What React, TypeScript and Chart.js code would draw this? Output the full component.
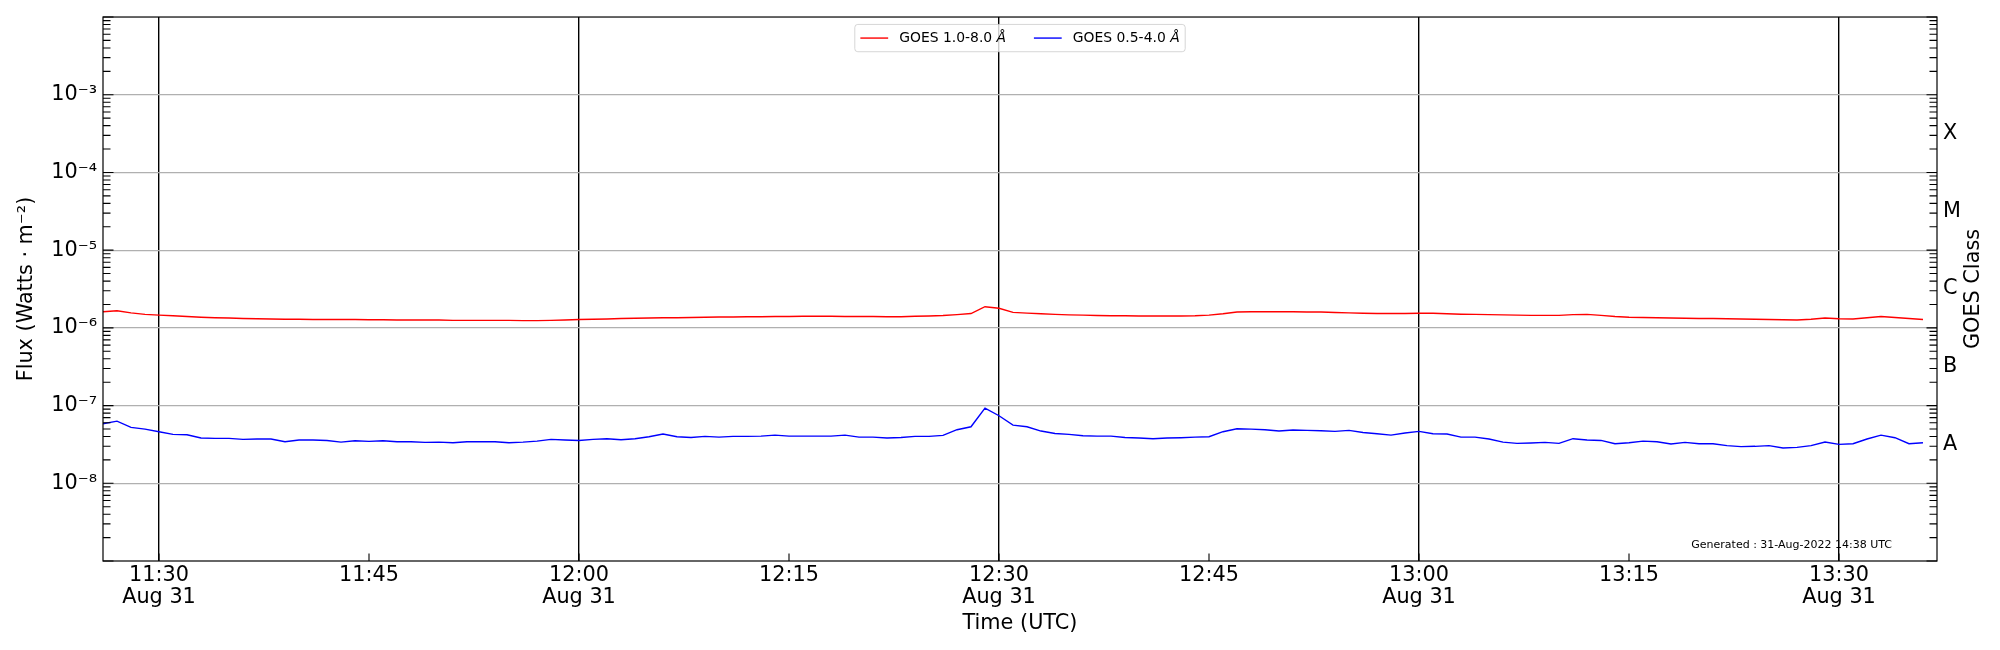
import { useEffect, useRef } from 'react';
import { Chart, registerables, type Plugin } from 'chart.js';

Chart.register(...registerables);

// one GOES reading per minute, first one at 11:26 UTC
const startMinute = 11 * 60 + 26;
const axisMin = 11 * 60 + 26;
const axisMax = 13 * 60 + 37;

const longFlux = [
  1.61e-6, 1.66e-6, 1.56e-6, 1.49e-6, 1.46e-6, 1.43e-6, 1.4e-6, 1.37e-6, 1.35e-6, 1.34e-6,
  1.32e-6, 1.31e-6, 1.3e-6, 1.29e-6, 1.29e-6, 1.28e-6, 1.28e-6, 1.28e-6, 1.28e-6, 1.27e-6,
  1.27e-6, 1.26e-6, 1.26e-6, 1.26e-6, 1.26e-6, 1.25e-6, 1.25e-6, 1.25e-6, 1.25e-6, 1.25e-6,
  1.24e-6, 1.24e-6, 1.25e-6, 1.26e-6, 1.28e-6, 1.29e-6, 1.3e-6, 1.32e-6, 1.33e-6, 1.34e-6,
  1.35e-6, 1.35e-6, 1.36e-6, 1.37e-6, 1.38e-6, 1.38e-6, 1.39e-6, 1.39e-6, 1.4e-6, 1.4e-6,
  1.41e-6, 1.41e-6, 1.41e-6, 1.4e-6, 1.4e-6, 1.4e-6, 1.39e-6, 1.39e-6, 1.41e-6, 1.42e-6,
  1.44e-6, 1.48e-6, 1.53e-6, 1.87e-6, 1.79e-6, 1.58e-6, 1.55e-6, 1.52e-6, 1.49e-6, 1.47e-6,
  1.46e-6, 1.44e-6, 1.43e-6, 1.43e-6, 1.42e-6, 1.42e-6, 1.42e-6, 1.42e-6, 1.43e-6, 1.46e-6,
  1.52e-6, 1.6e-6, 1.61e-6, 1.61e-6, 1.61e-6, 1.61e-6, 1.6e-6, 1.6e-6, 1.58e-6, 1.56e-6,
  1.54e-6, 1.53e-6, 1.53e-6, 1.53e-6, 1.54e-6, 1.54e-6, 1.52e-6, 1.5e-6, 1.49e-6, 1.48e-6,
  1.47e-6, 1.46e-6, 1.45e-6, 1.45e-6, 1.45e-6, 1.48e-6, 1.49e-6, 1.45e-6, 1.4e-6, 1.37e-6,
  1.36e-6, 1.35e-6, 1.34e-6, 1.33e-6, 1.32e-6, 1.32e-6, 1.31e-6, 1.3e-6, 1.29e-6, 1.28e-6,
  1.27e-6, 1.26e-6, 1.29e-6, 1.34e-6, 1.31e-6, 1.3e-6, 1.35e-6, 1.4e-6, 1.36e-6, 1.32e-6,
  1.28e-6,
];

const shortFlux = [
  5.84e-8, 6.31e-8, 5.24e-8, 4.98e-8, 4.61e-8, 4.26e-8, 4.21e-8, 3.82e-8, 3.78e-8, 3.78e-8,
  3.67e-8, 3.71e-8, 3.71e-8, 3.43e-8, 3.6e-8, 3.6e-8, 3.56e-8, 3.39e-8, 3.53e-8, 3.46e-8,
  3.53e-8, 3.43e-8, 3.43e-8, 3.36e-8, 3.39e-8, 3.33e-8, 3.43e-8, 3.43e-8, 3.43e-8, 3.33e-8,
  3.39e-8, 3.49e-8, 3.67e-8, 3.6e-8, 3.56e-8, 3.67e-8, 3.75e-8, 3.64e-8, 3.75e-8, 3.97e-8,
  4.3e-8, 3.97e-8, 3.89e-8, 4.01e-8, 3.93e-8, 4.01e-8, 4.01e-8, 4.05e-8, 4.17e-8, 4.05e-8,
  4.05e-8, 4.05e-8, 4.05e-8, 4.17e-8, 3.93e-8, 3.93e-8, 3.82e-8, 3.89e-8, 4.01e-8, 4.01e-8,
  4.13e-8, 4.89e-8, 5.34e-8, 9.27e-8, 7.4e-8, 5.61e-8, 5.34e-8, 4.7e-8, 4.38e-8, 4.26e-8,
  4.09e-8, 4.05e-8, 4.05e-8, 3.89e-8, 3.82e-8, 3.75e-8, 3.82e-8, 3.86e-8, 3.93e-8, 3.97e-8,
  4.61e-8, 5.03e-8, 4.98e-8, 4.89e-8, 4.7e-8, 4.84e-8, 4.79e-8, 4.74e-8, 4.65e-8, 4.79e-8,
  4.51e-8, 4.34e-8, 4.17e-8, 4.43e-8, 4.65e-8, 4.34e-8, 4.3e-8, 3.93e-8, 3.93e-8, 3.71e-8,
  3.39e-8, 3.26e-8, 3.3e-8, 3.36e-8, 3.26e-8, 3.75e-8, 3.6e-8, 3.56e-8, 3.23e-8, 3.33e-8,
  3.49e-8, 3.43e-8, 3.2e-8, 3.36e-8, 3.23e-8, 3.23e-8, 3.05e-8, 2.96e-8, 2.99e-8, 3.05e-8,
  2.84e-8, 2.9e-8, 3.05e-8, 3.39e-8, 3.17e-8, 3.23e-8, 3.71e-8, 4.17e-8, 3.86e-8, 3.23e-8,
  3.33e-8,
];

const seriesLabels = ['GOES 1.0-8.0 Å', 'GOES 0.5-4.0 Å'];
const seriesColors = ['#ff0000', '#0000ff'];

// tick positions in minutes of the day
const timeTicks = [690, 705, 720, 735, 750, 765, 780, 795, 810];
const dateLabel = 'Aug 31';
const fluxTicks = [1e-8, 1e-7, 1e-6, 1e-5, 1e-4, 1e-3];
const classNames = ['A', 'B', 'C', 'M', 'X'];
const classLevels = [10 ** -7.5, 10 ** -6.5, 10 ** -5.5, 10 ** -4.5, 10 ** -3.5];
const generatedText = 'Generated : 31-Aug-2022 14:38 UTC';

const FONT = 'DejaVu Sans';
const BIG = 20.8;
const tickFont = { family: FONT, size: BIG, lineHeight: 1.06 };
const titleFont = { family: FONT, size: BIG, lineHeight: 1.2 };

const sup: Record<string, string> = {
  '-': '⁻', '0': '⁰', '1': '¹', '2': '²', '3': '³', '4': '⁴',
  '5': '⁵', '6': '⁶', '7': '⁷', '8': '⁸', '9': '⁹',
};
const pow10 = (v: number) =>
  '10' + String(Math.round(Math.log10(v))).split('').map((c) => sup[c]).join('');

const hhmm = (m: number) => `${Math.floor(m / 60)}:${String(m % 60).padStart(2, '0')}`;

const decorations: Plugin<'line'> = {
  id: 'goesDecorations',
  afterDraw(chart) {
    const { ctx, chartArea: a, scales } = chart;
    const y = scales.y;
    const x = scales.x;
    const y2 = scales.y2;
    ctx.save();

    // inward log ticks on both sides, inward time ticks on the bottom
    ctx.strokeStyle = '#000';
    ctx.lineWidth = 1.1;
    ctx.beginPath();
    for (let e = -9; e <= -2; e++) {
      for (let m = 1; m <= 9; m++) {
        const v = m * 10 ** e;
        if (v > 1.0001e-2) break;
        const py = y.getPixelForValue(v);
        const len = m === 1 ? 10.5 : 7.5;
        ctx.moveTo(a.left, py);
        ctx.lineTo(a.left + len, py);
        ctx.moveTo(a.right, py);
        ctx.lineTo(a.right - len, py);
      }
    }
    for (const t of timeTicks) {
      const px = x.getPixelForValue(t);
      ctx.moveTo(px, a.bottom);
      ctx.lineTo(px, a.bottom - 7.5);
    }
    ctx.stroke();

    ctx.lineWidth = 1.2;
    ctx.strokeRect(a.left, a.top, a.right - a.left, a.bottom - a.top);

    // legend, matplotlib style, inside the axes at the top
    const fs = 13.9;
    const normal = `${fs}px '${FONT}'`;
    const italic = `italic ${fs}px '${FONT}'`;
    const items = chart.data.datasets.map((ds) => {
      const label = String(ds.label);
      const cut = label.lastIndexOf(' ') + 1;
      const main = label.slice(0, cut);
      const unit = label.slice(cut);
      ctx.font = normal;
      const w1 = ctx.measureText(main).width;
      ctx.font = italic;
      const w2 = ctx.measureText(unit).width;
      return { main, unit, w1, w: w1 + w2, color: String(ds.borderColor) };
    });
    const pad = 0.4 * fs;
    const handle = 2 * fs;
    const textPad = 0.8 * fs;
    const colGap = 2 * fs;
    const boxW =
      2 * pad + items.reduce((s, it) => s + handle + textPad + it.w, 0) + colGap * (items.length - 1);
    const boxH = 27.3;
    const boxX = (a.left + a.right) / 2 - boxW / 2;
    const boxY = a.top + 7.4;
    ctx.beginPath();
    ctx.roundRect(boxX, boxY, boxW, boxH, 3);
    ctx.fillStyle = 'rgba(255,255,255,0.8)';
    ctx.fill();
    ctx.strokeStyle = 'rgba(204,204,204,0.8)';
    ctx.lineWidth = 1;
    ctx.stroke();
    const cy = boxY + boxH / 2;
    let cx = boxX + pad;
    ctx.textBaseline = 'middle';
    ctx.textAlign = 'left';
    for (const it of items) {
      ctx.strokeStyle = it.color;
      ctx.lineWidth = 1.4;
      ctx.beginPath();
      ctx.moveTo(cx, cy);
      ctx.lineTo(cx + handle, cy);
      ctx.stroke();
      cx += handle + textPad;
      ctx.fillStyle = '#000';
      ctx.font = normal;
      ctx.fillText(it.main, cx, cy);
      ctx.font = italic;
      ctx.fillText(it.unit, cx + it.w1, cy);
      cx += it.w + colGap;
    }

    // footer note
    ctx.font = `11px '${FONT}'`;
    ctx.textAlign = 'right';
    ctx.fillStyle = '#000';
    ctx.fillText(generatedText, a.right - 45, a.bottom - 16);

    // right axis title, reading bottom to top like the left one
    ctx.translate(y2.left + 37, (a.top + a.bottom) / 2);
    ctx.rotate(-Math.PI / 2);
    ctx.textAlign = 'center';
    ctx.font = `${BIG}px '${FONT}'`;
    ctx.fillText('GOES Class', 0, 0);

    ctx.restore();
  },
};

const GoesChart = () => {
  const canvasRef = useRef<HTMLCanvasElement>(null);

  useEffect(() => {
    if (!canvasRef.current) return;
    Chart.defaults.font.family = FONT;
    Chart.defaults.color = '#000';

    const chart = new Chart(canvasRef.current, {
      type: 'line',
      data: {
        datasets: [
          {
            label: seriesLabels[0],
            data: longFlux.map((v, i) => ({ x: startMinute + i, y: v })),
            borderColor: seriesColors[0],
            borderWidth: 1.4,
            yAxisID: 'y',
          },
          {
            label: seriesLabels[1],
            data: shortFlux.map((v, i) => ({ x: startMinute + i, y: v })),
            borderColor: seriesColors[1],
            borderWidth: 1.4,
            yAxisID: 'y',
          },
        ],
      },
      options: {
        animation: false,
        responsive: true,
        maintainAspectRatio: false,
        devicePixelRatio: 1,
        layout: { padding: { top: 15, left: 0, right: 0, bottom: 0 } },
        elements: { point: { radius: 0 }, line: { tension: 0 } },
        plugins: { legend: { display: false }, tooltip: { enabled: false } },
        scales: {
          x: {
            type: 'linear',
            position: 'bottom',
            min: axisMin,
            max: axisMax,
            afterBuildTicks: (s) => {
              s.ticks = timeTicks.map((v) => ({ value: v }));
            },
            afterFit: (s) => {
              s.height = 89;
            },
            ticks: {
              autoSkip: false,
              maxRotation: 0,
              padding: 4,
              font: tickFont,
              color: '#000',
              callback: (v) => {
                const m = Number(v);
                return m % 30 === 0 ? [hhmm(m), dateLabel] : hhmm(m);
              },
            },
            grid: {
              drawTicks: false,
              lineWidth: 1.4,
              color: (c) => (c.tick && c.tick.value % 30 === 0 ? '#000000' : 'rgba(0,0,0,0)'),
            },
            border: { display: false },
            title: {
              display: true,
              text: 'Time (UTC)',
              font: titleFont,
              color: '#000',
              padding: { top: 0, bottom: 13.5 },
            },
          },
          y: {
            type: 'logarithmic',
            position: 'left',
            min: 1e-9,
            max: 1e-2,
            afterBuildTicks: (s) => {
              s.ticks = fluxTicks.map((v) => ({ value: v }));
            },
            afterFit: (s) => {
              s.width = 103;
            },
            ticks: {
              padding: 6,
              font: tickFont,
              color: '#000',
              callback: (v) => pow10(Number(v)),
            },
            grid: { drawTicks: false, color: '#b0b0b0', lineWidth: 1.3 },
            border: { display: false },
            title: {
              display: true,
              text: 'Flux (Watts · m⁻²)',
              font: titleFont,
              color: '#000',
              padding: { top: 14, bottom: 0 },
            },
          },
          y2: {
            type: 'logarithmic',
            position: 'right',
            min: 1e-9,
            max: 1e-2,
            afterBuildTicks: (s) => {
              s.ticks = classLevels.map((v) => ({ value: v }));
            },
            afterFit: (s) => {
              s.width = 63;
            },
            ticks: {
              padding: 6,
              font: tickFont,
              color: '#000',
              callback: (_v, i) => classNames[i],
            },
            grid: { display: false, drawTicks: false },
            border: { display: false },
          },
        },
      },
      plugins: [decorations],
    });

    return () => {
      chart.destroy();
    };
  }, []);

  return (
    <div style={{ position: 'absolute', left: 0, top: 0, width: 2000, height: 650, background: '#fff' }}>
      <canvas ref={canvasRef} />
    </div>
  );
};

export default function App() {
  return <GoesChart />;
}
